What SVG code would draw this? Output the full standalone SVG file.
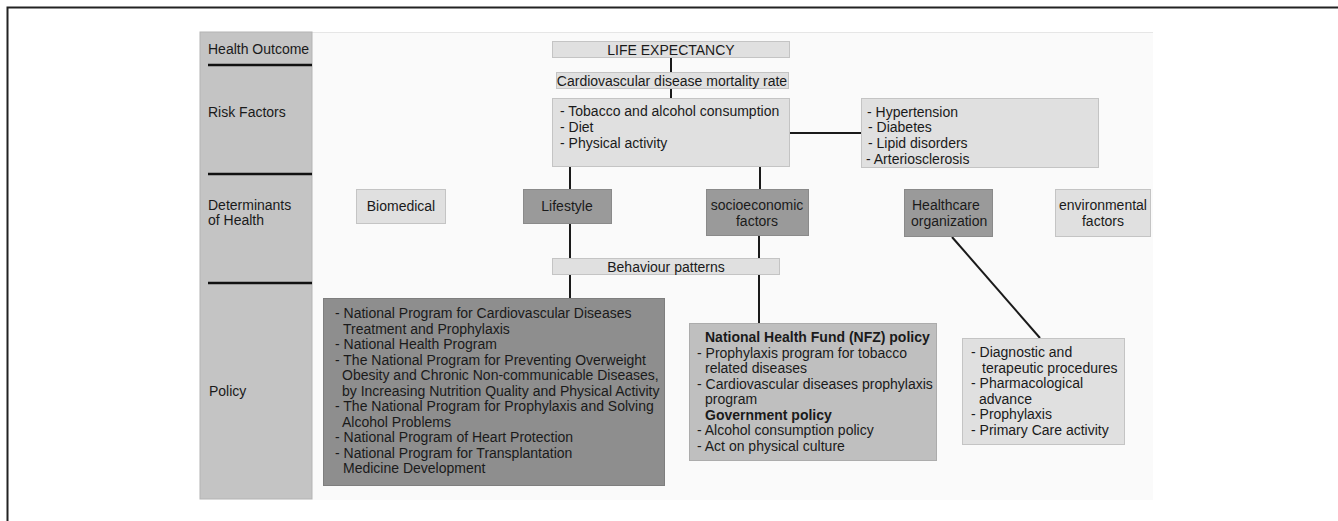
<svg xmlns="http://www.w3.org/2000/svg" width="1338" height="521" viewBox="0 0 1338 521">
<style>
text{font-family:"Liberation Sans",Arial,sans-serif;font-size:14px;fill:#1a1a1a}
.b{font-weight:bold}
.c{text-anchor:middle}
.light{fill:#e0e0e0;stroke:#c4c4c4;stroke-width:1}
.mid{fill:#9a9a9a;stroke:#8a8a8a;stroke-width:1}
.dark{fill:#8e8e8e;stroke:#7e7e7e;stroke-width:1}
.med{fill:#bfbfbf;stroke:#acacac;stroke-width:1}
.conn line{stroke:#1a1a1a;stroke-width:2}
.sep{stroke:#111;stroke-width:2.5}
</style>
<rect x="0" y="0" width="1338" height="521" fill="#fff"/>
<path d="M7.5 521 V7.5 H1338" fill="none" stroke="#222" stroke-width="2"/>
<rect x="312" y="32" width="841" height="468" fill="#fafafa"/>
<line x1="312" y1="32.5" x2="1153" y2="32.5" stroke="#e6e6e6" stroke-width="1"/>
<g id="axis">
<rect x="200" y="32" width="112" height="467" fill="#c4c4c4" stroke="#b4b4b4" stroke-width="1"/>
<line class="sep" x1="208" y1="65" x2="312" y2="65"/>
<line class="sep" x1="208" y1="174" x2="312" y2="174"/>
<line class="sep" x1="208" y1="283" x2="312" y2="283"/>
<text x="208" y="54">Health Outcome</text>
<text x="208" y="117">Risk Factors</text>
<text x="208" y="210">Determinants</text>
<text x="208" y="225">of Health</text>
<text x="209" y="396">Policy</text>
</g>
<g class="conn" id="connectors">
<line x1="671" y1="57" x2="671" y2="72"/>
<line x1="671" y1="88" x2="671" y2="98"/>
<line x1="790" y1="133" x2="861" y2="133"/>
<line x1="570" y1="167" x2="570" y2="189"/>
<line x1="760" y1="167" x2="760" y2="189"/>
<line x1="570" y1="223" x2="570" y2="298"/>
<line x1="759" y1="236" x2="759" y2="323"/>
<line x1="952" y1="237" x2="1040" y2="338"/>
</g>
<g id="life">
<rect class="light" x="552.5" y="41.5" width="237" height="16"/>
<text class="c" x="671" y="54.5">LIFE EXPECTANCY</text>
</g>
<g id="mortality">
<rect class="light" x="556.5" y="72.5" width="232" height="16"/>
<text class="c" x="672" y="85.5">Cardiovascular disease mortality rate</text>
</g>
<g id="risk">
<rect class="light" x="552.5" y="98.5" width="237" height="68"/>
<text x="560" y="116">- Tobacco and alcohol consumption</text>
<text x="560" y="132">- Diet</text>
<text x="560" y="148">- Physical activity</text>
</g>
<g id="risk-bio">
<rect class="light" x="861.5" y="98.5" width="237" height="69"/>
<text x="867" y="117">- Hypertension</text>
<text x="868" y="132">- Diabetes</text>
<text x="868" y="148">- Lipid disorders</text>
<text x="866" y="164">- Arteriosclerosis</text>
</g>
<g id="biomedical">
<rect class="light" x="356.5" y="189.5" width="89" height="34"/>
<text class="c" x="401" y="211">Biomedical</text>
</g>
<g id="lifestyle">
<rect class="mid" x="523.5" y="189.5" width="88" height="34"/>
<text class="c" x="567" y="211">Lifestyle</text>
</g>
<g id="socio">
<rect class="mid" x="706.5" y="189.5" width="102" height="46"/>
<text class="c" x="757" y="210">socioeconomic</text>
<text class="c" x="757" y="226">factors</text>
</g>
<g id="healthcare">
<rect class="mid" x="904.5" y="189.5" width="88" height="47"/>
<text x="912" y="210">Healthcare</text>
<text x="911" y="226">organization</text>
</g>
<g id="environmental">
<rect class="light" x="1055.5" y="189.5" width="95" height="47"/>
<text class="c" x="1103" y="210">environmental</text>
<text class="c" x="1103" y="226">factors</text>
</g>
<g id="behaviour">
<rect class="light" x="552.5" y="258.5" width="227" height="16"/>
<text class="c" x="666" y="271.5">Behaviour patterns</text>
</g>
<g id="policy-lifestyle">
<rect class="dark" x="323.5" y="298.5" width="341" height="187"/>
<text x="335" y="318">- National Program for Cardiovascular Diseases</text>
<text x="343" y="333.5">Treatment and Prophylaxis</text>
<text x="335" y="349">- National Health Program</text>
<text x="335" y="364.5">- The National Program for Preventing Overweight</text>
<text x="342" y="380">Obesity and Chronic Non-communicable Diseases,</text>
<text x="342" y="395.5">by Increasing Nutrition Quality and Physical Activity</text>
<text x="335" y="411">- The National Program for Prophylaxis and Solving</text>
<text x="342" y="426.5">Alcohol Problems</text>
<text x="335" y="442">- National Program of Heart Protection</text>
<text x="335" y="457.5">- National Program for Transplantation</text>
<text x="343" y="473">Medicine Development</text>
</g>
<g id="policy-socio">
<rect class="med" x="689.5" y="323.5" width="247" height="137"/>
<text class="b" x="705" y="342">National Health Fund (NFZ) policy</text>
<text x="697" y="357.5">- Prophylaxis program for tobacco</text>
<text x="705" y="373">related diseases</text>
<text x="697" y="388.5">- Cardiovascular diseases prophylaxis</text>
<text x="705" y="404">program</text>
<text class="b" x="705" y="419.5">Government policy</text>
<text x="697" y="435">- Alcohol consumption policy</text>
<text x="697" y="450.5">- Act on physical culture</text>
</g>
<g id="policy-healthcare">
<rect class="light" x="962.5" y="338.5" width="162" height="106"/>
<text x="971" y="357">- Diagnostic and</text>
<text x="982" y="372.5">terapeutic procedures</text>
<text x="971" y="388">- Pharmacological</text>
<text x="979" y="403.5">advance</text>
<text x="971" y="419">- Prophylaxis</text>
<text x="971" y="434.5">- Primary Care activity</text>
</g>
</svg>
